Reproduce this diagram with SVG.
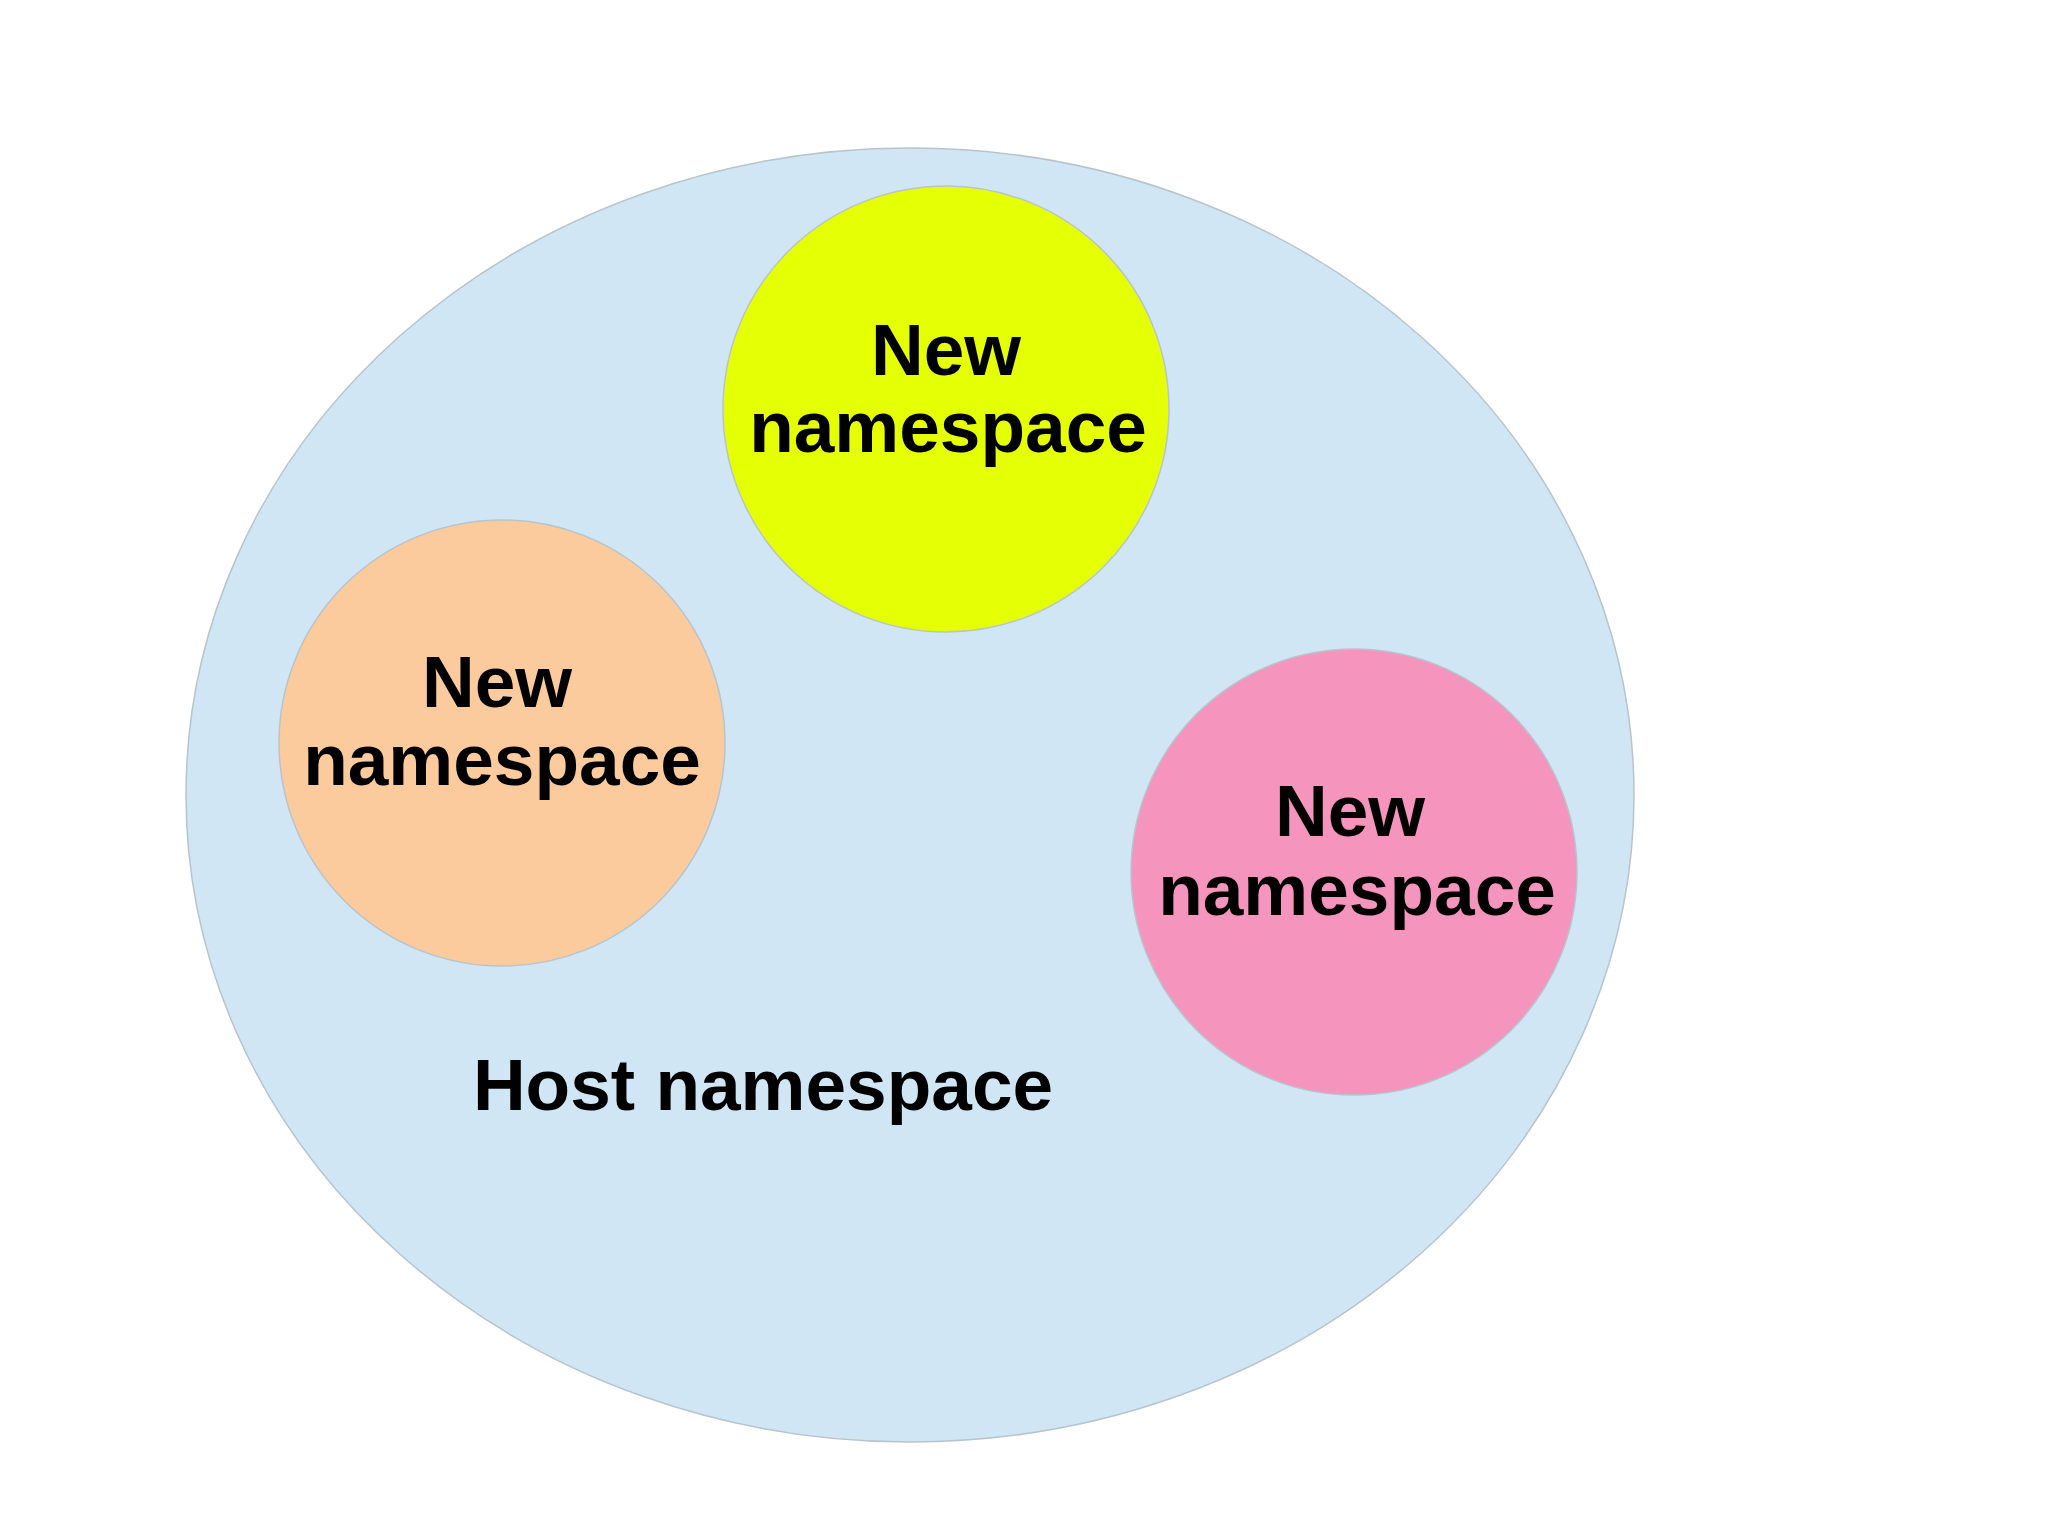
<svg xmlns="http://www.w3.org/2000/svg" width="2048" height="1535" viewBox="0 0 2048 1535">
<style>
.t{font-family:"Liberation Sans",Arial,sans-serif;font-weight:bold;font-size:73px;fill:#000;text-anchor:middle}
.c{stroke:#b8c4cc;stroke-width:1.5}
</style>
<rect width="2048" height="1535" fill="#fff"/>
<g id="host">
<ellipse class="c" cx="910" cy="795" rx="724" ry="647" fill="#d0e6f5"/>
<text class="t" x="763" y="1110">Host namespace</text>
</g>
<g id="yellow">
<circle class="c" cx="946" cy="409" r="223" fill="#e5ff05"/>
<text class="t" x="946" y="375">New</text>
<text class="t" x="948" y="452">namespace</text>
</g>
<g id="orange">
<circle class="c" cx="502" cy="743" r="223" fill="#fbcb9e"/>
<text class="t" x="497" y="707">New</text>
<text class="t" x="502" y="785">namespace</text>
</g>
<g id="pink">
<circle class="c" cx="1354" cy="872" r="223" fill="#f594bd"/>
<text class="t" x="1350" y="836">New</text>
<text class="t" x="1357" y="915">namespace</text>
</g>
<g id="connectors"/>
</svg>
